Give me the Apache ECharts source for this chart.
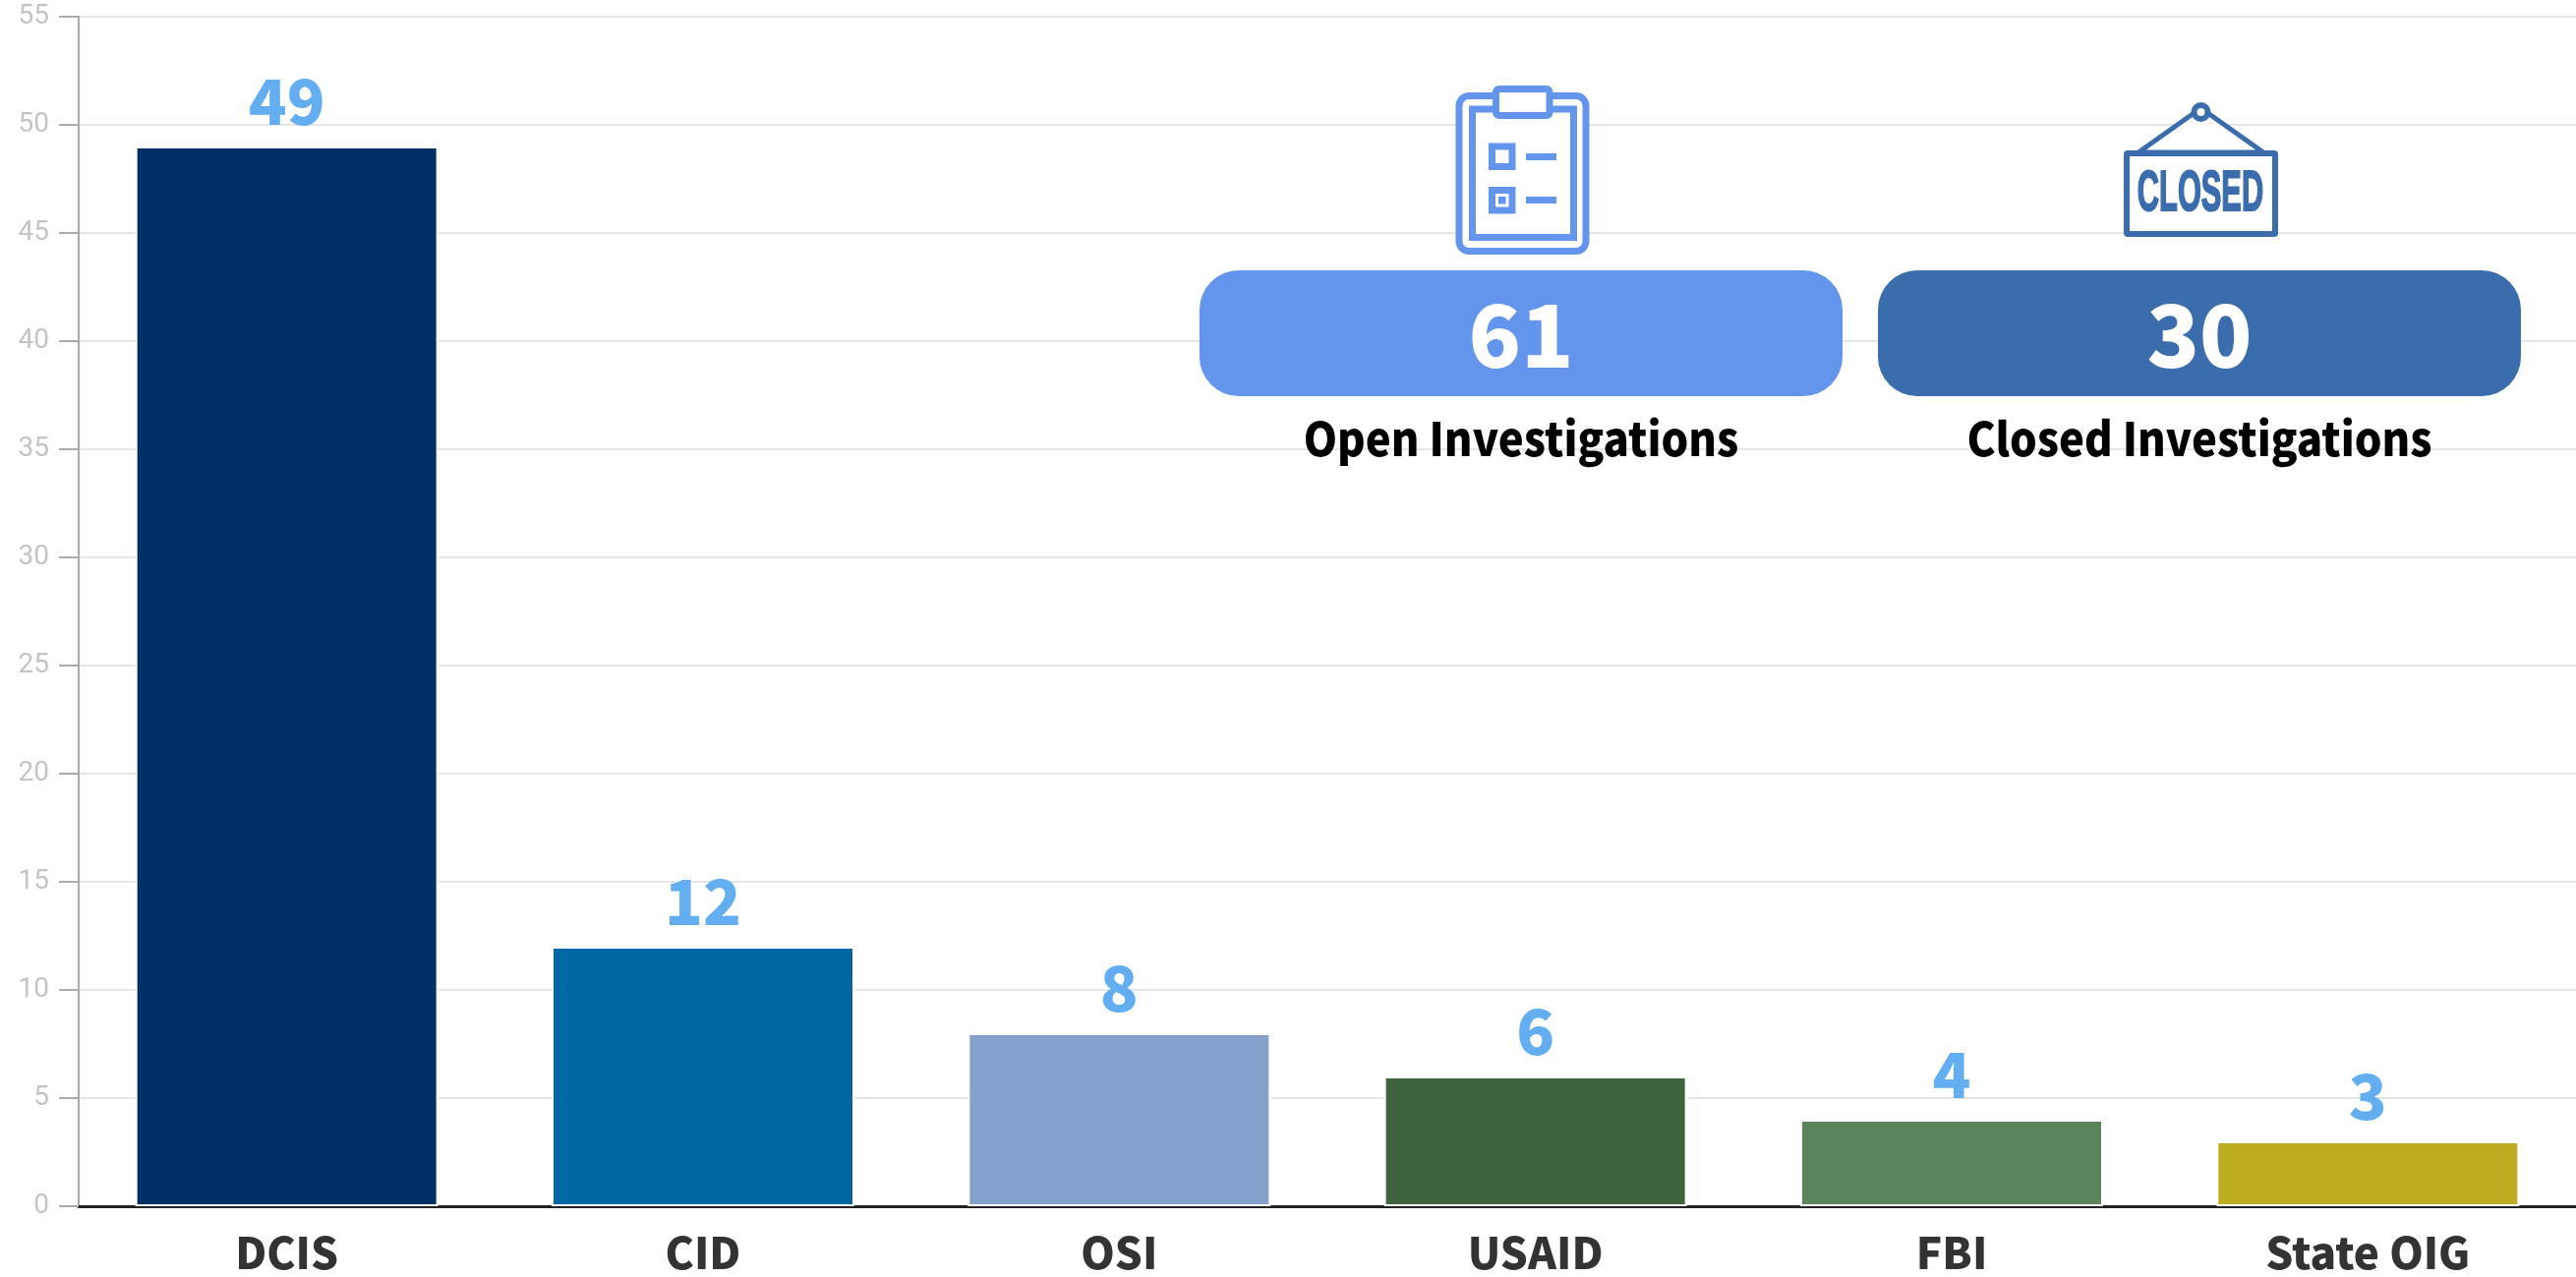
<!DOCTYPE html>
<html>
<head>
<meta charset="utf-8">
<title>Investigations</title>
<script src="https://cdn.jsdelivr.net/npm/echarts@6/dist/echarts.min.js"></script>
<style>
  html, body { margin: 0; padding: 0; background: #fff; }
  #chart { width: 2620px; height: 1299px; }
</style>
</head>
<body>
<div id="chart"></div>
<script>
var categories = ['DCIS', 'CID', 'OSI', 'USAID', 'FBI', 'State OIG'];
var values = [49, 12, 8, 6, 4, 3];
var statValues = ['61', '30'];
var statLabels = ['Open Investigations', 'Closed Investigations'];

var barColors = ['#002f65', '#0067a5', '#84a1cc', '#3e633d', '#5a855b', '#bdab20'];
var openBlue = '#6495ed';
var closedBlue = '#3b6dad';
var font = '"Noto Sans CJK JP", "Noto Sans", sans-serif';

// the summary pills + their captions
function statBox(i, left, color) {
  return [
    { type: 'rect', z: 10, shape: { x: left, y: 275, width: 654, height: 128, r: 40 }, style: { fill: color } },
    { type: 'text', z: 11, x: left + 327, y: 341, style: {
      text: statValues[i], fill: '#fff', font: '900 88px ' + font, align: 'center', verticalAlign: 'middle' } },
    { type: 'text', z: 11, x: left + 327, y: 446, scaleX: 0.93, style: {
      text: statLabels[i], fill: '#000', font: '900 47px ' + font, align: 'center', verticalAlign: 'middle' } }
  ];
}

function boxStroke(x, y, w, h, r, color, lw) {
  return { type: 'rect', z: 10, shape: { x: x, y: y, width: w, height: h, r: r },
    style: { fill: '#fff', stroke: color, lineWidth: lw } };
}

function solid(x, y, w, h, color) {
  return { type: 'rect', z: 11, shape: { x: x, y: y, width: w, height: h }, style: { fill: color } };
}

// clipboard icon
var clipboardIcon = [
  boxStroke(1484, 97.5, 129, 158, 10, openBlue, 7),
  boxStroke(1497.5, 111, 103, 130.5, 0, openBlue, 7),
  boxStroke(1521.5, 90.5, 54.5, 27, 3, openBlue, 7),
  boxStroke(1517.5, 149, 20.5, 20.5, 0, openBlue, 7),
  solid(1552, 156, 31, 7, openBlue),
  boxStroke(1517.5, 193.5, 20.5, 20.5, 0, openBlue, 7),
  solid(1524, 200, 7.5, 7.5, openBlue),
  solid(1552, 200, 31, 7, openBlue)
];

// closed sign icon
var closedIcon = [
  { type: 'polygon', z: 10, shape: { points: [[2175, 155], [2238.5, 110], [2302, 155]] },
    style: { fill: '#fff', stroke: closedBlue, lineWidth: 5 } },
  { type: 'circle', z: 11, shape: { cx: 2238.5, cy: 114, r: 7 },
    style: { fill: '#fff', stroke: closedBlue, lineWidth: 6 } },
  boxStroke(2163, 156, 151, 82, 1, closedBlue, 6),
  { type: 'text', z: 12, x: 2238, y: 198, scaleX: 0.54, style: {
    text: 'CLOSED', fill: closedBlue, stroke: closedBlue, lineWidth: 2,
    font: 'bold 57px "Liberation Sans Narrow", sans-serif',
    align: 'center', verticalAlign: 'middle' } }
];

var chart = echarts.init(document.getElementById('chart'));
chart.setOption({
  animation: false,
  backgroundColor: '#fff',
  grid: { left: 80, right: 0, top: 17, bottom: 72 },
  xAxis: {
    type: 'category',
    data: categories,
    axisLine: { lineStyle: { color: '#222', width: 3 } },
    axisTick: { alignWithLabel: true, length: 19, lineStyle: { color: '#222', width: 2 } },
    axisLabel: { color: '#333', fontFamily: font, fontWeight: 900, fontSize: 44, margin: 25, interval: 0 }
  },
  yAxis: {
    type: 'value',
    min: 0,
    max: 55,
    interval: 5,
    axisLine: { show: true, lineStyle: { color: '#aaa', width: 2 } },
    axisTick: { show: true, length: 20, lineStyle: { color: '#aaa', width: 2 } },
    axisLabel: { color: '#c4c4c4', fontFamily: '"Liberation Sans Narrow", Roboto, sans-serif', fontSize: 28, margin: 30, padding: [4, 0, 0, 0] },
    splitLine: { lineStyle: { color: '#e6e6e6', width: 2 } }
  },
  series: [{
    type: 'bar',
    barWidth: 308,
    data: values.map(function (v, i) {
      return { value: v, itemStyle: { color: barColors[i] } };
    }),
    itemStyle: { borderColor: '#fff', borderWidth: 2 },
    label: {
      show: true,
      position: 'top',
      distance: 14,
      color: '#62aef0',
      fontFamily: font,
      fontWeight: 900,
      fontSize: 64
    }
  }],
  graphic: statBox(0, 1220, openBlue).concat(statBox(1, 1910, closedBlue), clipboardIcon, closedIcon)
});
</script>
</body>
</html>
